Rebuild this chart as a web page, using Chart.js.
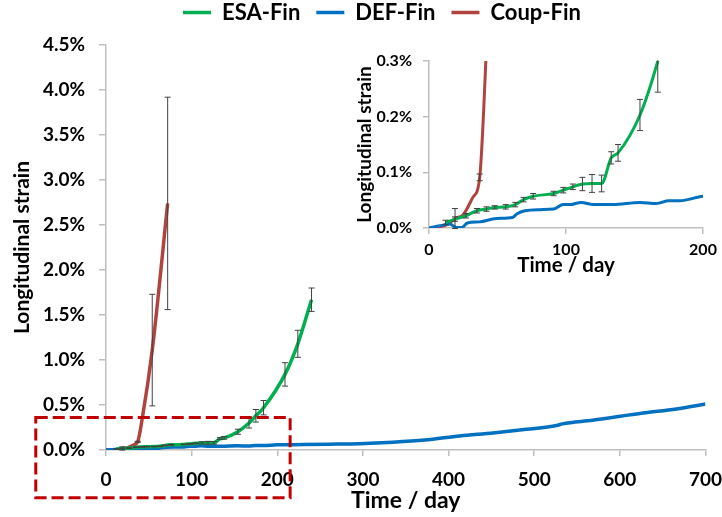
<!DOCTYPE html>
<html>
<head>
<meta charset="utf-8">
<script src="https://cdn.jsdelivr.net/npm/chart.js"></script>
<style>
  body { margin: 0; background: #fff; }
  #wrap { position: relative; width: 722px; height: 517px; }
  #mainChart { position: absolute; left: 0; top: 0; }
  #insetChart { position: absolute; left: 340px; top: 30px; }
</style>
</head>
<body>
<div id="wrap">
  <canvas id="mainChart" width="722" height="517"></canvas>
  <canvas id="insetChart" width="382" height="250"></canvas>
</div>
<script>
// strain values in %
const esaDays = [12, 19, 27, 35, 42, 48, 56, 63, 69, 76, 91, 98, 105, 112, 119, 126, 133, 138, 154, 167, 175, 184, 209, 224, 240];
const esaStrain = [0.010, 0.016, 0.022, 0.031, 0.034, 0.037, 0.038, 0.042, 0.051, 0.057, 0.062, 0.068, 0.074, 0.079, 0.080, 0.080, 0.126, 0.135, 0.203, 0.30, 0.38, 0.47, 0.84, 1.18, 1.67];
const esaErr = [0.004, 0.004, 0.004, 0.004, 0.004, 0.003, 0.004, 0.004, 0.004, 0.005, 0.004, 0.005, 0.005, 0.012, 0.016, 0.015, 0.011, 0.015, 0.028, 0.056, 0.07, 0.08, 0.13, 0.15, 0.13];

const defDays = [0, 8, 15, 20, 24, 28, 37, 49, 61, 64, 70, 81, 91, 98, 103, 111, 120, 134, 154, 166, 175, 183, 200, 230, 260, 296, 335, 372, 413, 452, 491, 526, 533, 568, 627, 666, 700];
const defStrain = [0, 0.004, 0.007, 0.001, 0.001, 0.009, 0.011, 0.017, 0.019, 0.025, 0.031, 0.033, 0.034, 0.042, 0.042, 0.046, 0.042, 0.042, 0.046, 0.044, 0.049, 0.049, 0.057, 0.060, 0.064, 0.070, 0.086, 0.110, 0.156, 0.190, 0.230, 0.272, 0.290, 0.330, 0.410, 0.456, 0.510];

const coupDays = [0, 7, 14, 19, 25, 32, 37, 42, 54, 72];
const coupStrain = [0, 0.002, 0.007, 0.017, 0.024, 0.055, 0.091, 0.33, 1.11, 2.74];
const coupErr = [0, 0, 0, 0.018, 0, 0, 0.006, 0, 0.62, 1.18];

const mainStrainTicks = [0, 0.5, 1.0, 1.5, 2.0, 2.5, 3.0, 3.5, 4.0, 4.5];
const insetStrainTicks = [0, 0.1, 0.2, 0.3];

// dashed box marking the zoomed region (days / %)
const boxDays = [-82, 215];
const boxStrain = [-0.53, 0.36];

Chart.defaults.font.family = "Lato";
Chart.defaults.font.weight = "bold";
Chart.defaults.color = "#000";

const toPoints = (xs, ys) => xs.map((d, i) => ({ x: d, y: ys[i] }));
const pct = v => v.toFixed(1) + "%";
const axisGray = "#BFBFBF";

function makeDatasets(width) {
  return [
    {
      label: "ESA-Fin",
      data: toPoints(esaDays, esaStrain),
      errors: esaErr,
      borderColor: "#00B050",
      backgroundColor: "#00B050",
      borderWidth: width,
      pointRadius: 0,
      cubicInterpolationMode: "monotone"
    },
    {
      label: "DEF-Fin",
      data: toPoints(defDays, defStrain),
      borderColor: "#0070C0",
      backgroundColor: "#0070C0",
      borderWidth: width,
      pointRadius: 0,
      cubicInterpolationMode: "monotone"
    },
    {
      label: "Coup-Fin",
      data: toPoints(coupDays, coupStrain),
      errors: coupErr,
      borderColor: "#B0433F",
      backgroundColor: "#B0433F",
      borderWidth: width,
      pointRadius: 0,
      cubicInterpolationMode: "monotone"
    }
  ];
}

const errorBars = {
  id: "errorBars",
  afterDatasetsDraw(chart) {
    const { ctx, chartArea, scales: { x, y } } = chart;
    ctx.save();
    ctx.beginPath();
    ctx.rect(chartArea.left, chartArea.top - 1, chartArea.width, chartArea.height + 2);
    ctx.clip();
    ctx.strokeStyle = "#404040";
    ctx.lineWidth = 1;
    chart.data.datasets.forEach(ds => {
      if (!ds.errors) return;
      ds.data.forEach((p, i) => {
        const e = ds.errors[i];
        if (!e) return;
        const px = x.getPixelForValue(p.x);
        const top = y.getPixelForValue(p.y + e);
        const bot = y.getPixelForValue(p.y - e);
        ctx.beginPath();
        ctx.moveTo(px, top); ctx.lineTo(px, bot);
        ctx.moveTo(px - 3, top); ctx.lineTo(px + 3, top);
        ctx.moveTo(px - 3, bot); ctx.lineTo(px + 3, bot);
        ctx.stroke();
      });
    });
    ctx.restore();
  }
};

const zoomBox = {
  id: "zoomBox",
  afterDraw(chart) {
    const { ctx, scales: { x, y } } = chart;
    const l = x.getPixelForValue(boxDays[0]);
    const r = x.getPixelForValue(boxDays[1]);
    const t = y.getPixelForValue(boxStrain[1]);
    const b = y.getPixelForValue(boxStrain[0]);
    ctx.save();
    ctx.strokeStyle = "#C00000";
    ctx.lineWidth = 3;
    ctx.setLineDash([12, 5]);
    ctx.strokeRect(l, t, r - l, b - t);
    ctx.restore();
  }
};

// extra room between legend and plot
const legendGap = {
  id: "legendGap",
  beforeInit(chart) {
    const fit = chart.legend.fit;
    chart.legend.fit = function () {
      fit.bind(chart.legend)();
      this.height += 11.5;
    };
  }
};

new Chart(document.getElementById("mainChart"), {
  type: "line",
  data: { datasets: makeDatasets(3.5) },
  options: {
    responsive: false,
    animation: false,
    layout: { padding: { top: -14.5, left: 26, right: -16, bottom: 0 } },
    plugins: {
      legend: {
        position: "top",
        labels: {
          usePointStyle: true,
          pointStyle: "line",
          pointStyleWidth: 28,
          padding: 16,
          font: { size: 22, weight: "bold" },
          color: "#000"
        }
      },
      tooltip: { enabled: false }
    },
    scales: {
      x: {
        type: "linear",
        min: 0,
        max: 700,
        afterFit: s => { s.height = 67; },
        ticks: { stepSize: 100, padding: 0, font: { size: 19, lineHeight: 2.53 } },
        grid: { drawOnChartArea: false, drawTicks: true, tickLength: 6, color: axisGray, lineWidth: 1.5 },
        border: { color: axisGray, width: 1.5 },
        title: { display: true, text: "Time / day", font: { size: 23 }, padding: { top: 0, bottom: 3 } }
      },
      y: {
        min: 0,
        max: 4.5,
        afterFit: s => { s.width = 80; },
        afterBuildTicks: s => { s.ticks = mainStrainTicks.map(v => ({ value: v })); },
        ticks: { callback: pct, padding: 14, font: { size: 19 } },
        grid: { drawOnChartArea: false, drawTicks: true, tickLength: 7, color: axisGray, lineWidth: 1.5 },
        border: { color: axisGray, width: 1.5 },
        title: { display: true, text: "Longitudinal strain", font: { size: 21 }, padding: { top: -16, bottom: 0 } }
      }
    }
  },
  plugins: [legendGap, errorBars, zoomBox]
});

new Chart(document.getElementById("insetChart"), {
  type: "line",
  data: { datasets: makeDatasets(3) },
  options: {
    responsive: false,
    animation: false,
    layout: { padding: { top: 31, left: 0, right: 19, bottom: 0 } },
    plugins: {
      legend: { display: false },
      tooltip: { enabled: false }
    },
    scales: {
      x: {
        type: "linear",
        min: 0,
        max: 200,
        afterFit: s => { s.height = 52; },
        ticks: { stepSize: 100, padding: 0, font: { size: 16, lineHeight: 2 } },
        grid: { drawOnChartArea: false, drawTicks: true, tickLength: 6, color: axisGray, lineWidth: 1.5 },
        border: { color: axisGray, width: 1.5 },
        title: { display: true, text: "Time / day", font: { size: 20.5 }, padding: { top: 0, bottom: 2 } }
      },
      y: {
        min: 0,
        max: 0.3,
        afterFit: s => { s.width = 89; },
        afterBuildTicks: s => { s.ticks = insetStrainTicks.map(v => ({ value: v })); },
        ticks: { callback: pct, padding: 11, font: { size: 16 } },
        grid: { drawOnChartArea: false, drawTicks: true, tickLength: 6, color: axisGray, lineWidth: 1.5 },
        border: { color: axisGray, width: 1.5 },
        title: { display: true, text: "Longitudinal strain", font: { size: 19 }, padding: { top: 13, bottom: 0 } }
      }
    }
  },
  plugins: [errorBars]
});
</script>
</body>
</html>
